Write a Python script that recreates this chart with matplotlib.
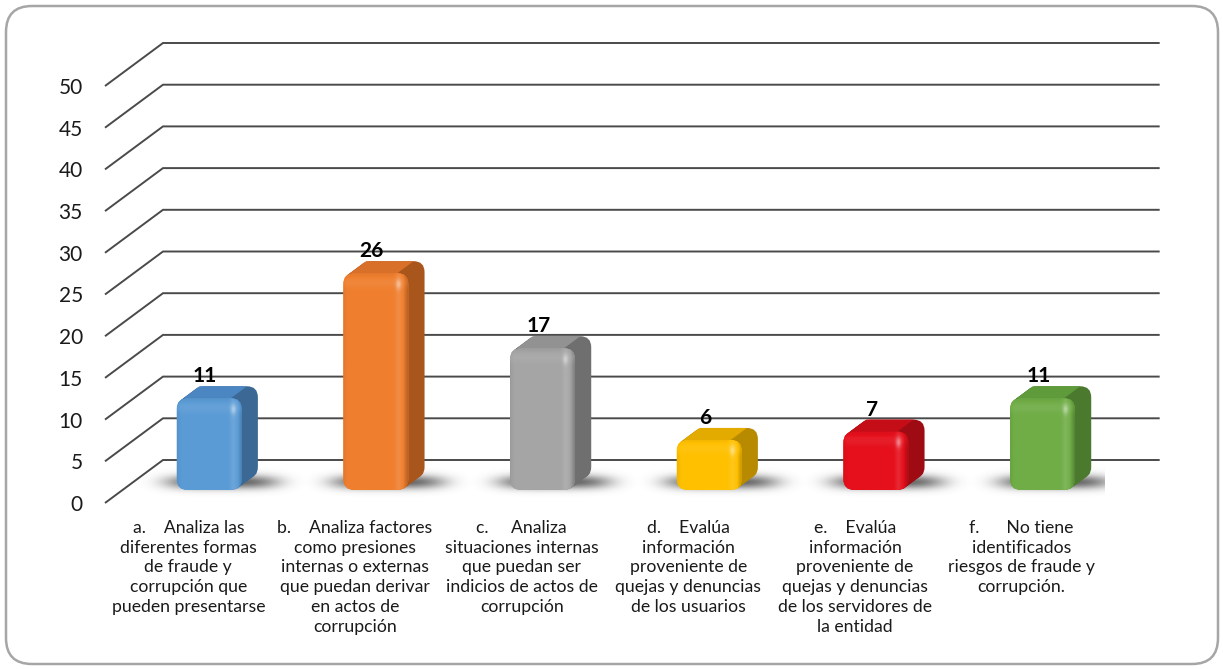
import numpy as np
import matplotlib
matplotlib.use("Agg")
import matplotlib.pyplot as plt
from matplotlib.patches import FancyBboxPatch, Polygon
from matplotlib.colors import to_rgb

# ---- data -------------------------------------------------------------
categories = [
    "a.    Analiza las\ndiferentes formas\nde fraude y\ncorrupción que\npueden presentarse",
    "b.    Analiza factores\ncomo presiones\ninternas o externas\nque puedan derivar\nen actos de\ncorrupción",
    "c.     Analiza\nsituaciones internas\nque puedan ser\nindicios de actos de\ncorrupción",
    "d.    Evalúa\ninformación\nproveniente de\nquejas y denuncias\nde los usuarios",
    "e.    Evalúa\ninformación\nproveniente de\nquejas y denuncias\nde los servidores de\nla entidad",
    "f.      No tiene\nidentificados\nriesgos de fraude y\ncorrupción.",
]
values = [11, 26, 17, 6, 7, 11]
y_ticks = list(range(0, 55, 5))

face_colors = ["#5b9bd5", "#ef7f2f", "#a5a5a5", "#ffc000", "#e5101c", "#70ad47"]
side_colors = ["#3c6895", "#a9561c", "#6f6f6f", "#b88a00", "#9e0b12", "#4b7a2e"]
top_colors = ["#4c86c2", "#d8702a", "#929292", "#e3ab00", "#c40d17", "#5f9a3b"]

plt.rcParams["font.family"] = ["Lato", "DejaVu Sans"]

W, H = 1223, 669
fig = plt.figure(figsize=(W / 100, H / 100), dpi=100)
fig.patch.set_facecolor("white")

# ---- rounded chart frame ---------------------------------------------
bg = fig.add_axes([0, 0, 1, 1], zorder=0)
bg.set_xlim(0, W)
bg.set_ylim(H, 0)
bg.axis("off")
bg.add_patch(FancyBboxPatch((6, 6), W - 11, H - 11,
                            boxstyle="round,pad=0,rounding_size=26",
                            fc="white", ec="#a6a6a6", lw=1.8))

# ---- plot area (front plane of the 3-D box) ---------------------------
ax_l, ax_w = 105, 1000
ax_bot, ax_h = 503, 417
ax = fig.add_axes([ax_l / W, (H - ax_bot) / H, ax_w / W, ax_h / H], zorder=1)
ax.patch.set_alpha(0)
for s in ax.spines.values():
    s.set_visible(False)

px_x = ax_w / 6.0      # pixels per category unit
px_y = ax_h / 50.0     # pixels per value unit
DX = 58 / px_x         # depth of the box, data units
DY = 43 / px_y

# walls: side-wall diagonal plus back-wall line for each gridline
for v in y_ticks:
    ax.plot([0, DX, 6 + DX - 0.02], [v, v + DY, v + DY], color="#4a4a4a",
            lw=1.4, clip_on=False, zorder=1, solid_joinstyle="miter",
            solid_capstyle="butt")

d_front = 13 / 43
d_thick = 12 / 43
bar_w = 65 / px_x
r_px = 11
aspect = px_x / px_y


def shade(rgb, k):
    rgb = np.asarray(rgb)
    k = np.asarray(k)[..., None]
    return np.where(k >= 0, rgb + (1 - rgb) * k, rgb * (1 + k))


for i, v in enumerate(values):
    cx = i + 0.5 + d_front * DX + 0.02
    x0 = cx - bar_w / 2
    y0 = d_front * DY
    y1 = v + y0
    ox, oy = d_thick * DX, d_thick * DY

    # soft shadow on the floor
    sx0, sx1 = x0 - 60 / px_x, x0 + bar_w + 90 / px_x
    sy0, sy1 = y0 - 10 / px_y, y0 + 30 / px_y
    nx, ny = 200, 50
    gx = np.linspace(sx0, sx1, nx)
    gy = np.linspace(sy0, sy1, ny)
    GX, GY = np.meshgrid(gx, gy)
    ex = ((GX - (cx + 12 / px_x)) * px_x) / 60
    ey = ((GY - (y0 + 8 / px_y)) * px_y) / 8
    alpha = 0.75 * np.exp(-(ex ** 4 + ey ** 2) * 1.3)
    sh = np.zeros((ny, nx, 4))
    sh[..., :3] = 0.2
    sh[..., 3] = alpha
    ax.imshow(sh, extent=[sx0, sx1, sy0, sy1], origin="lower",
              aspect="auto", interpolation="bilinear", zorder=2)

    # extruded body: stack of rounded slices from back to front
    for k in np.linspace(1, 0.05, 12):
        ax.add_patch(FancyBboxPatch(
            (x0 + k * ox, y0 + k * oy), bar_w, v,
            boxstyle=f"round,pad=0,rounding_size={r_px / px_x}",
            mutation_aspect=aspect, fc=side_colors[i], ec="none", zorder=3))
    rx, ry = r_px / px_x, r_px / px_y
    ax.add_patch(Polygon([(x0 + rx * 0.6, y1), (x0 + rx * 0.6 + ox, y1 + oy),
                          (x0 + bar_w - rx + ox, y1 + oy),
                          (x0 + bar_w - rx, y1)],
                         closed=True, fc=top_colors[i], ec="none", zorder=3))

    # front face with shading
    front = FancyBboxPatch((x0, y0), bar_w, v,
                           boxstyle=f"round,pad=0,rounding_size={r_px / px_x}",
                           mutation_aspect=aspect, fc=face_colors[i],
                           ec="none", zorder=4)
    ax.add_patch(front)
    nxf = 80
    nyf = max(int(v * px_y), 10)
    u = np.linspace(0, 1, nxf)[None, :]
    t = np.linspace(v * px_y, 0, nyf)[:, None]   # pixels from the top
    k = (0.10 * np.exp(-((u - 0.86) / 0.05) ** 2)
         - 0.22 * np.clip((u - 0.93) / 0.07, 0, 1)
         - 0.06 * np.clip((0.06 - u) / 0.06, 0, 1)
         + 0.35 * np.exp(-((u - 0.86) / 0.04) ** 2 - ((t - 11) / 5) ** 2)
         + 0.06 * np.exp(-((t - 9) / 5) ** 2)
         - 0.05 * np.clip((6 - t) / 6, 0, 1))
    k = np.broadcast_to(k, (nyf, nxf))
    img = shade(to_rgb(face_colors[i]), k)
    im = ax.imshow(np.clip(img, 0, 1), extent=[x0, x0 + bar_w, y0, y1],
                   origin="lower", aspect="auto", interpolation="bilinear",
                   zorder=5)
    im.set_clip_path(front)

    # value label
    ax.text(cx - 4 / px_x, y1 + oy + 4 / px_y, str(v), ha="center",
            va="baseline", fontsize=15, fontweight="bold", color="black",
            zorder=6)

ax.set_xlim(0, 6)
ax.set_ylim(0, 50)
ax.set_yticks(y_ticks)
ax.tick_params(axis="y", length=0, pad=16, labelsize=15, labelcolor="#1a1a1a")
ax.set_xticks(np.arange(6) + 0.5)
ax.set_xticklabels(categories, fontsize=12.7, color="#1a1a1a", linespacing=1.3)
ax.tick_params(axis="x", length=0, pad=12)

fig.savefig("out.png", dpi=100, facecolor="white")
